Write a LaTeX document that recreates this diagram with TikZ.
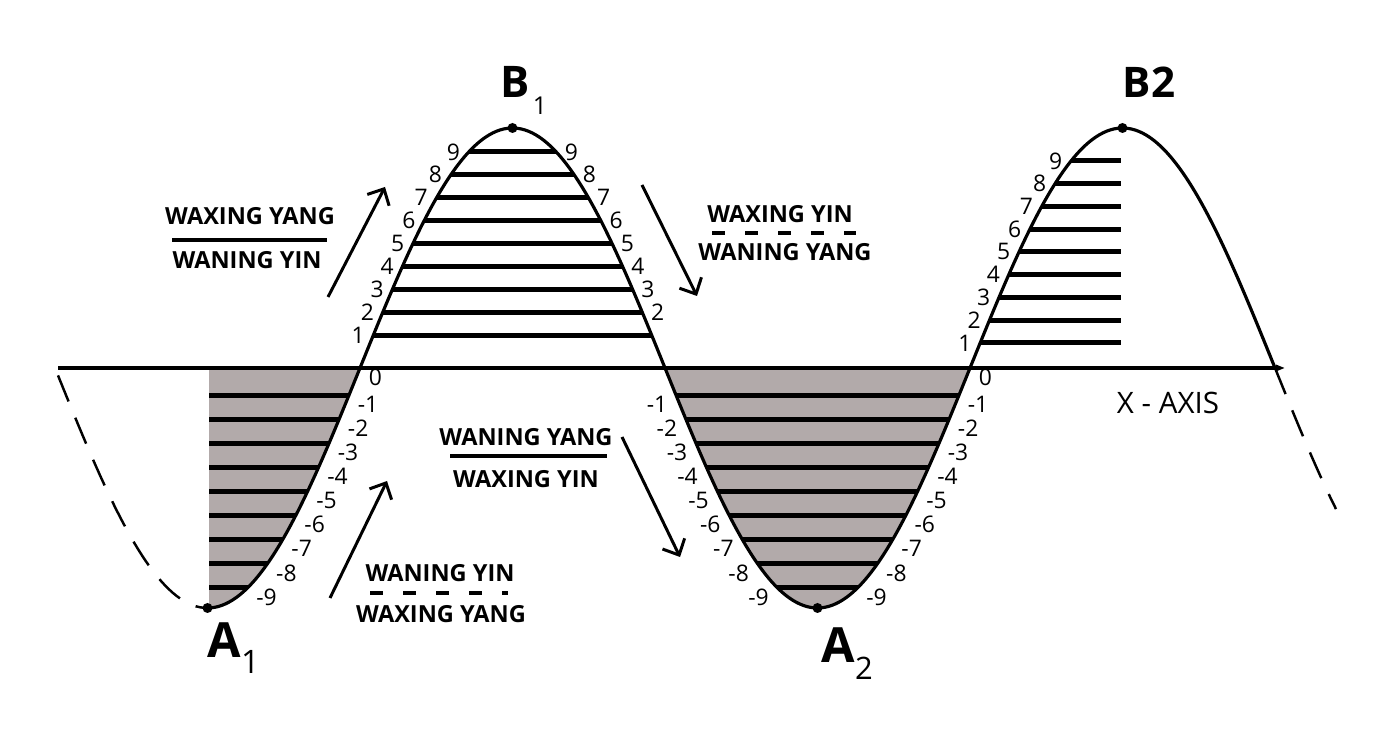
\documentclass[tikz,border=0pt]{standalone}
\usepackage{fontspec}
\setmainfont{Open Sans}
\usepackage{tikz}
\usetikzlibrary{arrows.meta}

\definecolor{troughgray}{RGB}{178,170,170}
\newcommand{\wave}[1]{3.74+2.4*sin(((#1)-3.6)*360/6.1)}

\begin{document}
\begin{tikzpicture}[font=\fontsize{6.5}{7.5}\selectfont,
  curve/.style={line width=0.9pt},
  ghost/.style={line width=0.7pt, dash pattern=on 8pt off 5pt},
  hatch/.style={line width=1.4pt},
  rule/.style={line width=1.1pt},
  dashrule/.style={rule, dash pattern=on 3.7pt off 5.7pt},
  flow/.style={line width=0.85pt, -{Straight Barb[length=3.6pt,width=7pt]}},
  lvl/.style={inner xsep=2.3pt, inner ysep=0pt},
  tag/.style={font=\fontsize{6.7}{8}\selectfont\bfseries, inner sep=0pt},
  peak/.style={inner sep=0pt, anchor=base west}]
  \useasboundingbox (0,0) rectangle (13.8,7.42);

  % shaded troughs
  \fill[troughgray] (2.09,3.74) -- plot[domain=2.09:3.6,samples=60] (\x,{\wave{\x}}) -- cycle;
  \fill[troughgray] plot[domain=6.65:9.70,samples=100] (\x,{\wave{\x}}) -- cycle;

  % levels above the axis
  \foreach \k in {1,...,9} {
    \pgfmathsetmacro\hb{0.10+0.229*\k}
    \pgfmathsetmacro\db{asin(\hb/2.4)*6.1/360}
    \draw[hatch] (3.6+\db,3.74+\hb) -- (6.65-\db,3.74+\hb);
    \node[lvl,anchor=east] (bl\k) at (3.6+\db,3.74+\hb) {\k};
  }
  \foreach \k in {2,...,9} {
    \pgfmathsetmacro\hb{0.10+0.229*\k}
    \pgfmathsetmacro\db{asin(\hb/2.4)*6.1/360}
    \node[lvl,anchor=west] (br\k) at (6.65-\db,3.74+\hb) {\k};
  }
  \foreach \k in {1,...,9} {
    \pgfmathsetmacro\hc{0.023+0.2275*\k}
    \pgfmathsetmacro\dc{asin(\hc/2.4)*6.1/360}
    \draw[hatch] (9.70+\dc,3.74+\hc) -- (11.21,3.74+\hc);
    \node[lvl,anchor=east] (dl\k) at (9.70+\dc,3.74+\hc) {\k};
  }

  % levels below the axis
  \foreach \k in {1,...,9} {
    \pgfmathsetmacro\ha{0.03+0.241*\k}
    \pgfmathsetmacro\da{asin(\ha/2.4)*6.1/360}
    \draw[hatch] (2.09,3.74-\ha) -- (3.6-\da,3.74-\ha);
    \node[lvl,anchor=north west] (ar\k) at (3.6-\da,3.74-\ha) {-\k};
    \draw[hatch] (6.65+\da,3.74-\ha) -- (9.70-\da,3.74-\ha);
    \node[lvl,anchor=north east] (cl\k) at (6.65+\da,3.74-\ha) {-\k};
    \node[lvl,anchor=north west] (cr\k) at (9.70-\da,3.74-\ha) {-\k};
  }
  \node[lvl,anchor=north west] (az) at (3.6,3.74) {0};
  \node[lvl,anchor=north west] (cz) at (9.70,3.74) {0};

  % axis and wave
  \coordinate (axl) at (0.58,3.74);
  \coordinate (axr) at (12.9,3.74);
  \draw[line width=1.4pt, -{Triangle[length=4pt,width=1.4pt]}] (axl) -- (axr);
  \draw[curve] plot[domain=2.075:12.75,samples=300,smooth] (\x,{\wave{\x}});
  \draw[ghost] plot[domain=0.58:2.075,samples=40] (\x,{\wave{\x}});
  \draw[ghost] plot[domain=12.75:13.36,samples=30] (\x,{\wave{\x}});
  \node[font=\fontsize{8.4}{10}\selectfont] (xaxis) at (11.68,3.395) {X - AXIS};

  \foreach \n/\p in {a1/2.075, b1/5.125, a2/8.175, b2/11.225} {
    \coordinate (\n) at (\p,{\wave{\p}});
    \fill (\n) circle (0.05);
  }
  \node[peak] (lb1) at (5.00,6.44) {{\fontsize{12.4}{14}\selectfont\bfseries B}\kern0.8pt\raisebox{-4.8pt}{\fontsize{7}{8}\selectfont 1}};
  \node[peak] (la1) at (2.07,0.84) {{\fontsize{13.8}{16}\selectfont\bfseries A}\raisebox{-4.3pt}{\fontsize{9.2}{10}\selectfont 1}};
  \node[peak] (la2) at (8.21,0.79) {{\fontsize{13.8}{16}\selectfont\bfseries A}\raisebox{-4.8pt}{\fontsize{8.8}{10}\selectfont 2}};
  \node[peak] (lb2) at (11.22,6.44) {\fontsize{12}{14}\selectfont\bfseries B2};

  % yin / yang fractions
  \node[tag] (f1t) at (2.50,5.26) {WAXING YANG};
  \node[tag] (f1b) at (2.47,4.82) {WANING YIN};
  \coordinate (f1l) at (1.72,5.02); \coordinate (f1r) at (3.27,5.02);
  \draw[rule] (f1l) -- (f1r);

  \node[tag] (f2t) at (7.80,5.28) {WAXING YIN};
  \node[tag] (f2b) at (7.85,4.90) {WANING YANG};
  \coordinate (f2l) at (7.12,5.09); \coordinate (f2r) at (8.56,5.09);
  \draw[dashrule] (f2l) -- (f2r);

  \node[tag] (f3t) at (5.26,3.05) {WANING YANG};
  \node[tag] (f3b) at (5.26,2.63) {WAXING YIN};
  \coordinate (f3l) at (4.50,2.86); \coordinate (f3r) at (6.07,2.86);
  \draw[rule] (f3l) -- (f3r);

  \node[tag] (f4t) at (4.40,1.69) {WANING YIN};
  \node[tag] (f4b) at (4.41,1.28) {WAXING YANG};
  \coordinate (f4l) at (3.70,1.49); \coordinate (f4r) at (5.08,1.49);
  \draw[dashrule] (f4l) -- (f4r);

  % direction arrows
  \coordinate (u1s) at (3.28,4.45); \coordinate (u1e) at (3.85,5.55);
  \coordinate (d1s) at (6.42,5.57); \coordinate (d1e) at (6.97,4.46);
  \coordinate (u2s) at (3.30,1.44); \coordinate (u2e) at (3.87,2.61);
  \coordinate (d2s) at (6.22,3.05); \coordinate (d2e) at (6.80,1.85);
  \draw[flow] (u1s) -- (u1e);
  \draw[flow] (d1s) -- (d1e);
  \draw[flow] (u2s) -- (u2e);
  \draw[flow] (d2s) -- (d2e);
\end{tikzpicture}
\end{document}
